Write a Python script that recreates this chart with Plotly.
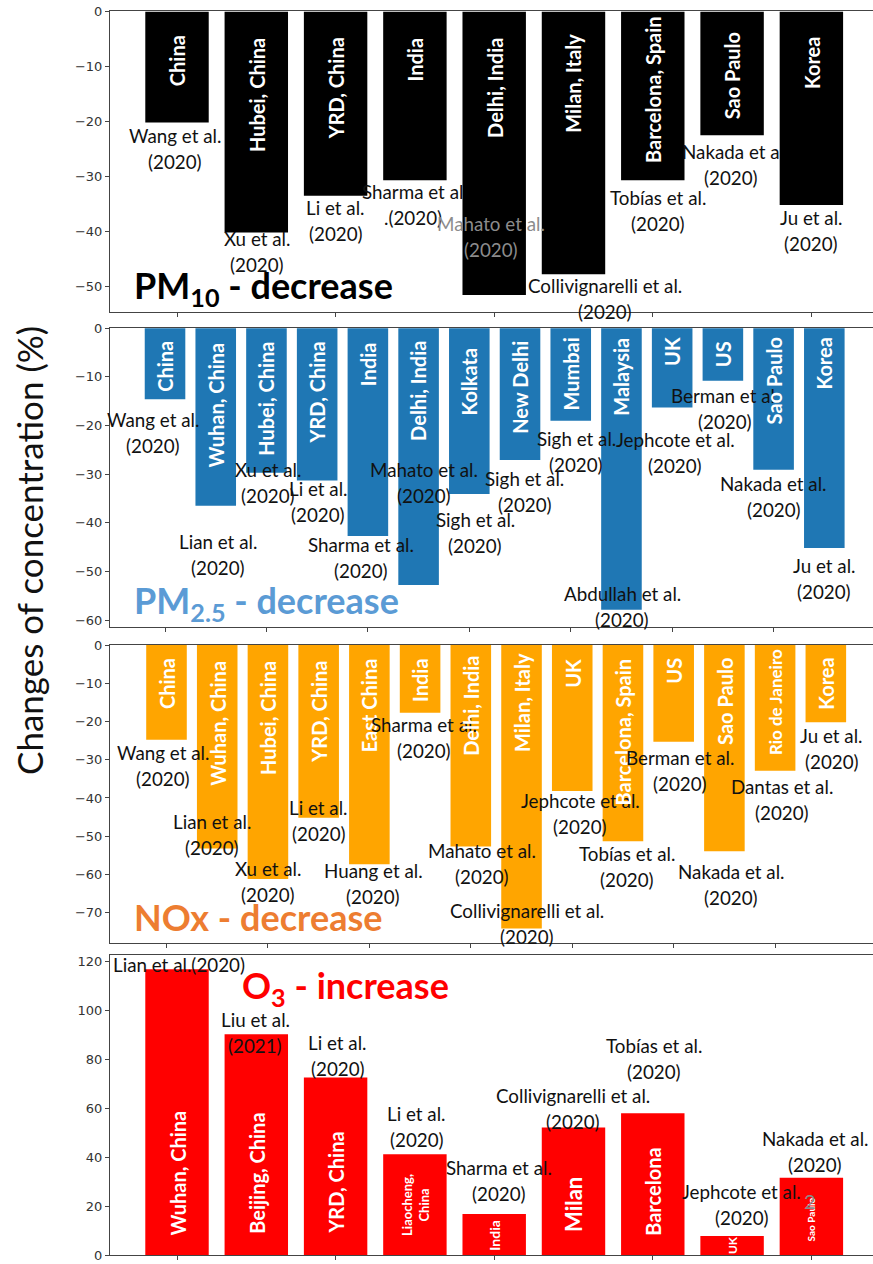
import plotly.graph_objects as go

W, H = 873, 1264

# ---------------- data ----------------
pm10_sites = ["China", "Hubei, China", "YRD, China", "India", "Delhi, India",
              "Milan, Italy", "Barcelona, Spain", "Sao Paulo", "Korea"]
pm10_values = [-20.2, -40.2, -33.5, -30.7, -51.6, -47.8, -30.7, -22.5, -35.2]
pm10_refs = ["Wang et al.\n(2020)", "Xu et al.\n(2020)", "Li et al.\n(2020)",
             "Sharma et al\n.(2020)", "Mahato et al.\n(2020)",
             "Collivignarelli et al.\n(2020)", "Tobías et al.\n(2020)",
             "Nakada et a\n(2020)", "Ju et al.\n(2020)"]

pm25_sites = ["China", "Wuhan, China", "Hubei, China", "YRD, China", "India",
              "Delhi, India", "Kolkata", "New Delhi", "Mumbai", "Malaysia",
              "UK", "US", "Sao Paulo", "Korea"]
pm25_values = [-14.6, -36.5, -29.7, -31.3, -42.7, -52.8, -34.1, -27.1, -19.0,
               -57.9, -16.3, -10.8, -29.1, -45.2]
pm25_refs = ["Wang et al.\n(2020)", "Lian et al.\n(2020)", "Xu et al.\n(2020)",
             "Li et al.\n(2020)", "Sharma et al.\n(2020)", "Mahato et al.\n(2020)",
             "Sigh et al.\n(2020)", "Sigh et al.\n(2020)", "Sigh et al.\n(2020)",
             "Abdullah et al.\n(2020)", "Jephcote et al.\n(2020)",
             "Berman et al.\n(2020)", "Nakada et al.\n(2020)", "Ju et al.\n(2020)"]

nox_sites = ["China", "Wuhan, China", "Hubei, China", "YRD, China", "East China",
             "India", "Delhi, India", "Milan, Italy", "UK", "Barcelona, Spain",
             "US", "Sao Paulo", "Rio de Janeiro", "Korea"]
nox_values = [-24.8, -53.2, -61.2, -45.2, -57.3, -17.7, -52.7, -74.1, -38.2,
              -51.3, -25.3, -53.9, -32.9, -20.2]
nox_refs = ["Wang et al.\n(2020)", "Lian et al.\n(2020)", "Xu et al.\n(2020)",
            "Li et al.\n(2020)", "Huang et al.\n(2020)", "Sharma et al.\n(2020)",
            "Mahato et al.\n(2020)", "Collivignarelli et al.\n(2020)",
            "Jephcote et al.\n(2020)", "Tobías et al.\n(2020)",
            "Berman et al.\n(2020)", "Nakada et al.\n(2020)",
            "Dantas et al.\n(2020)", "Ju et al.\n(2020)"]

o3_sites = ["Wuhan, China", "Beijing, China", "YRD, China", "Liaocheng,\nChina",
            "India", "Milan", "Barcelona", "UK", "Sao Paulo"]
o3_values = [116.9, 90.3, 72.6, 41.2, 16.8, 52.2, 58.0, 7.8, 31.6]
o3_refs = ["Lian et al.(2020)", "Liu et al.\n(2021)", "Li et al.\n(2020)",
           "Li et al.\n(2020)", "Sharma et al.\n(2020)",
           "Collivignarelli et al.\n(2020)", "Tobías et al.\n(2020)",
           "Jephcote et al.\n(2020)", "Nakada et al.\n(2020)"]

y_ticks_pm10 = [0, -10, -20, -30, -40, -50]
y_ticks_pm25 = [0, -10, -20, -30, -40, -50, -60]
y_ticks_nox = [0, -10, -20, -30, -40, -50, -60, -70]
y_ticks_o3 = [0, 20, 40, 60, 80, 100, 120]

# ---------------- layout / style (pixels) ----------------
panels = [
    dict(sites=pm10_sites, values=pm10_values, refs=pm10_refs, yticks=y_ticks_pm10,
         color="#000000", top=10.7, bottom=311.7, yrange=[-54.64, 0.18],
         xrange=[-0.845, 8.777],
         ref_dx=[-2, 1, 0, -2, -3, 32, 5, -1, 0],
         ref_dy=[13, 6, 12, 11, -72, 11, 17, 16, 13],
         ref_col=["#111"] * 4 + ["#8c8c8c"] + ["#111"] * 4,
         lab_pad=[23, 25, 25, 25, 25, 21, 3, 20, 24],
         lab_size=[20] * 9,
         title="PM<sub>10</sub> - decrease", tcolor="#000000", tx=132, ty=287),
    dict(sites=pm25_sites, values=pm25_values, refs=pm25_refs, yticks=y_ticks_pm25,
         color="#1f77b4", top=327.5, bottom=626.7, yrange=[-61.37, 0.16],
         xrange=[-1.085, 13.96],
         ref_dx=[-12.5, 2, 2, 1, -7, 5.5, 6, 4.6, 5.4, 1, 3, 2, 0, 0],
         ref_dy=[20, 36, -3, 8, 9, -116, 25, 18, 18, -16, 32, 15, 14, 17],
         ref_col=["#111"] * 14,
         lab_pad=[12, 13, 12, 12, 13, 12, 18, 12, 8, 8, 8, 12, 8, 8],
         lab_size=[20] * 14,
         title="PM<sub>2.5</sub> - decrease", tcolor="#5B9BD5", tx=132, ty=602),
    dict(sites=nox_sites, values=nox_values, refs=nox_refs, yticks=y_ticks_nox,
         color="#FFA500", top=644.5, bottom=943.3, yrange=[-78.0, 0.13],
         xrange=[-1.114, 13.93],
         ref_dx=[-3.5, -5, 0, 0, 4, 4, 11, 5.6, 8, 4, 6.5, 7, 6.6, 6],
         ref_dy=[13, -27, -11, -10, 6, 12, 3.5, -18, 9, 12, 16, 20.6, 16, 13],
         ref_col=["#111"] * 14,
         lab_pad=[12, 15, 15, 15, 12, 12, 10, 7, 13, 12, 12, 12, 3, 12],
         lab_size=[20] * 12 + [17, 20],
         title="NOx - decrease", tcolor="#ED7D31", tx=132, ty=917),
    dict(sites=o3_sites, values=o3_values, refs=o3_refs, yticks=y_ticks_o3,
         color="#FF0000", top=955, bottom=1255, yrange=[0, 122.75],
         xrange=[-0.845, 8.777],
         ref_dx=[2, -1, 2, 1.6, 5, 0, 1, 9.6, 4],
         ref_dy=[-5, -15, -35, -41, -46, -32, -68, -44, -39],
         ref_col=["#111"] * 9,
         lab_pad=[18, 20, 20, 18, 3, 22, 18, 0, 13],
         lab_size=[20, 20, 20, 13, 14, 22, 20, 12, 10],
         title="O<sub>3</sub> - increase", tcolor="#FF0000", tx=240, ty=987),
]

LINE_GAP = 26
REF_SIZE = 18.8
TITLE_SIZE = 36
FONT = "Lato"

fig = go.Figure()
annotations = []
layout_axes = {}

for k, p in enumerate(panels):
    n = len(p["sites"])
    xs = list(range(n))
    ax = "" if k == 0 else str(k + 1)
    fig.add_trace(go.Bar(x=xs, y=p["values"], marker=dict(color=p["color"], line=dict(width=0)),
                         width=0.8, xaxis="x" + ax, yaxis="y" + ax, showlegend=False,
                         hoverinfo="skip"))
    dom = [1 - p["bottom"] / H, 1 - p["top"] / H]
    layout_axes["xaxis" + ax] = dict(
        domain=[110 / W, 1], range=p["xrange"], anchor="y" + ax, automargin=False,
        showline=True, linecolor="#444", linewidth=1, mirror=True,
        ticks="outside", ticklen=4, tickcolor="#444", tickvals=list(range(0, n, 2)),
        showticklabels=False, showgrid=False, zeroline=False, fixedrange=True)
    layout_axes["yaxis" + ax] = dict(
        domain=dom, range=p["yrange"], anchor="x" + ax, automargin=False,
        showline=True, linecolor="#444", linewidth=1,
        ticks="outside", ticklen=4, tickcolor="#444", tickvals=p["yticks"],
        tickfont=dict(family="DejaVu Sans", size=13, color="#333"),
        showgrid=False, zeroline=False, fixedrange=True)

    positive = p["values"][0] > 0
    for i, (site, val, ref) in enumerate(zip(p["sites"], p["values"], p["refs"])):
        # site label inside bar (rotated)
        annotations.append(dict(
            x=i, y=0, xref="x" + ax, yref="y" + ax,
            text="<b>" + site.replace("\n", "<br>") + "</b>", textangle=-90,
            showarrow=False, font=dict(family=FONT, size=p["lab_size"][i], color="white"),
            xanchor="center", yanchor="bottom" if positive else "top",
            yshift=p["lab_pad"][i] if positive else -p["lab_pad"][i],
            borderpad=0))
        # reference lines near bar end
        for j, line in enumerate(ref.split("\n")):
            annotations.append(dict(
                x=i, y=val, xref="x" + ax, yref="y" + ax, text=line, showarrow=False,
                font=dict(family=FONT, size=REF_SIZE, color=p["ref_col"][i]),
                xanchor="center", yanchor="middle",
                xshift=p["ref_dx"][i], yshift=-(p["ref_dy"][i] + j * LINE_GAP),
                borderpad=0))
    # panel title
    annotations.append(dict(
        x=p["tx"] / W, y=1 - p["ty"] / H, xref="paper", yref="paper",
        text="<b>" + p["title"] + "</b>", showarrow=False, xanchor="left",
        yanchor="middle", font=dict(family=FONT, size=TITLE_SIZE, color=p["tcolor"])))

# y axis title
annotations.append(dict(
    x=29 / W, y=1 - 551 / H, xref="paper", yref="paper",
    text="Changes of concentration (%)", textangle=-90, showarrow=False,
    xanchor="center", yanchor="middle", font=dict(family=FONT, size=35, color="#111")))
# stray page mark
annotations.append(dict(
    x=818 / W, y=1 - 1215 / H, xref="paper", yref="paper", text="2",
    showarrow=False, font=dict(family=FONT, size=20, color="#8a8a8a")))

fig.update_layout(
    width=W, height=H, margin=dict(l=0, r=0, t=0, b=0, autoexpand=False),
    paper_bgcolor="white", plot_bgcolor="white",
    bargap=0.2, annotations=annotations, **layout_axes)

fig.write_html("out.html", config={"displayModeBar": False},
               post_script="document.body.style.margin='0';document.body.style.overflow='hidden';")
